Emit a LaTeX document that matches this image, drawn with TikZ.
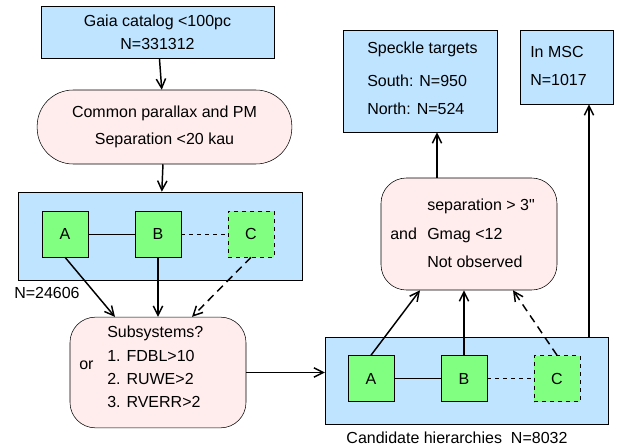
\documentclass[tikz,border=0pt]{standalone}
\usepackage{fontspec}
\setmainfont{Liberation Sans}
\usepackage{xcolor}
\usetikzlibrary{arrows.meta,positioning,calc}

\definecolor{boxblue}{RGB}{190,228,255}
\definecolor{boxpink}{RGB}{255,236,236}
\definecolor{boxgreen}{RGB}{128,255,128}

\begin{document}
\begin{tikzpicture}[x=0.75pt, y=-0.75pt,
        font=\fontsize{12}{14}\selectfont,
        bluebox/.style={rectangle, draw, fill=boxblue, inner sep=0pt, align=center},
        pinkbox/.style={rectangle, rounded corners=#1, draw, fill=boxpink, inner sep=0pt, align=center},
        comp/.style={rectangle, draw, fill=boxgreen, minimum size=34.5pt, inner sep=0pt},
        txt/.style={anchor=west, align=left, inner sep=0pt},
        arr/.style={-{Straight Barb[length=7pt,width=7pt]}, line width=1.1pt},
        darr/.style={arr, dash pattern=on 6pt off 4pt}
    ]
        \useasboundingbox (0,0) rectangle (626,447);

        % Selection from Gaia
        \node[bluebox, minimum width=174.75pt, minimum height=39pt,
              font=\fontsize{12}{17}\selectfont] (gaia) at (157.5,32)
              {Gaia catalog <100pc\\N=331312};
        \node[pinkbox=27pt, minimum width=191pt, minimum height=55.5pt,
              font=\fontsize{12}{20}\selectfont] (common) at (164.5,127)
              {Common parallax and PM\\Separation <20 kau};

        % Pairs
        \node[bluebox, minimum width=213pt, minimum height=66pt] (pairs) at (160,236) {};
        \node[comp] (pa) at (65,234) {A};
        \node[comp] (pb) at (158,234) {B};
        \node[comp, dashed] (pc) at (251,234) {C};
        \node[txt] (npairs) at (14,293) {N=24606};

        % Subsystem test
        \node[pinkbox=19pt, minimum width=132pt, minimum height=83pt] (subsys) at (158,372.5) {};
        \node[txt] (subor) at (79,365) {or};
        \node[txt] (subtxt) at (107,367) {Subsystems?\\[3.5pt]1. FDBL>10\\[3.5pt]2. RUWE>2\\[3.5pt]3. RVERR>2};

        % Candidate hierarchies
        \node[bluebox, minimum width=212pt, minimum height=65pt] (cand) at (466.5,380.5) {};
        \node[comp] (ca) at (371,378.5) {A};
        \node[comp] (cb) at (464,378.5) {B};
        \node[comp, dashed] (cc) at (557,378.5) {C};
        \node (ncand) at (457,438) {Candidate hierarchies\ \ N=8032};

        % Speckle selection
        \node[pinkbox=19pt, minimum width=132pt, minimum height=84pt] (sep) at (469,234) {};
        \node[txt] (sepand) at (390,234) {and};
        \node[txt] (septxt) at (427,233.5) {separation > 3\textquotedbl\\[7.4pt]Gmag <12\\[7.4pt]Not observed};

        % Results
        \node[bluebox, minimum width=115.5pt, minimum height=76.5pt] (speckle) at (420,81) {};
        \node[txt] (speckletxt) at (367,78.5) {Speckle targets\\[10.75pt]South: N=950\\[7pt]North: N=524};
        \node[bluebox, minimum width=70pt, minimum height=55.5pt] (msc) at (566.5,67) {};
        \node[txt] (msctxt) at (530,66) {In MSC\\[7pt]N=1017};

        % Arrows
        \draw[arr] (gaia) -- (common);
        \draw[arr] (common) -- (pairs);
        \draw (pa) -- (pb);
        \draw[dashed] (pb) -- (pc);
        \draw (ca) -- (cb);
        \draw[dashed] (cb) -- (cc);
        \draw[arr] (pa.south) -- ($(subsys.north)+(-43,0)$);
        \draw[arr] (pb.south) -- (pb.south |- subsys.north);
        \draw[darr] (pc.south) -- ($(subsys.north)+(34,0)$);
        \draw[arr] (subsys.east) -- (subsys.east -| cand.west);
        \draw[arr] (ca.north) -- ($(sep.south)+(-49,0)$);
        \draw[arr] (cb.north) -- (cb.north |- sep.south);
        \draw[darr] (cc.north) -- ($(sep.south)+(44,0)$);
        \coordinate (specklein) at ($(sep.north)+(-32,0)$);
        \draw[arr] (specklein) -- (specklein |- speckle.south);
        \coordinate (mscin) at ($(msc.south)+(22.5,0)$);
        \draw[arr] (mscin |- cand.north) -- (mscin);
    \end{tikzpicture}
\end{document}
